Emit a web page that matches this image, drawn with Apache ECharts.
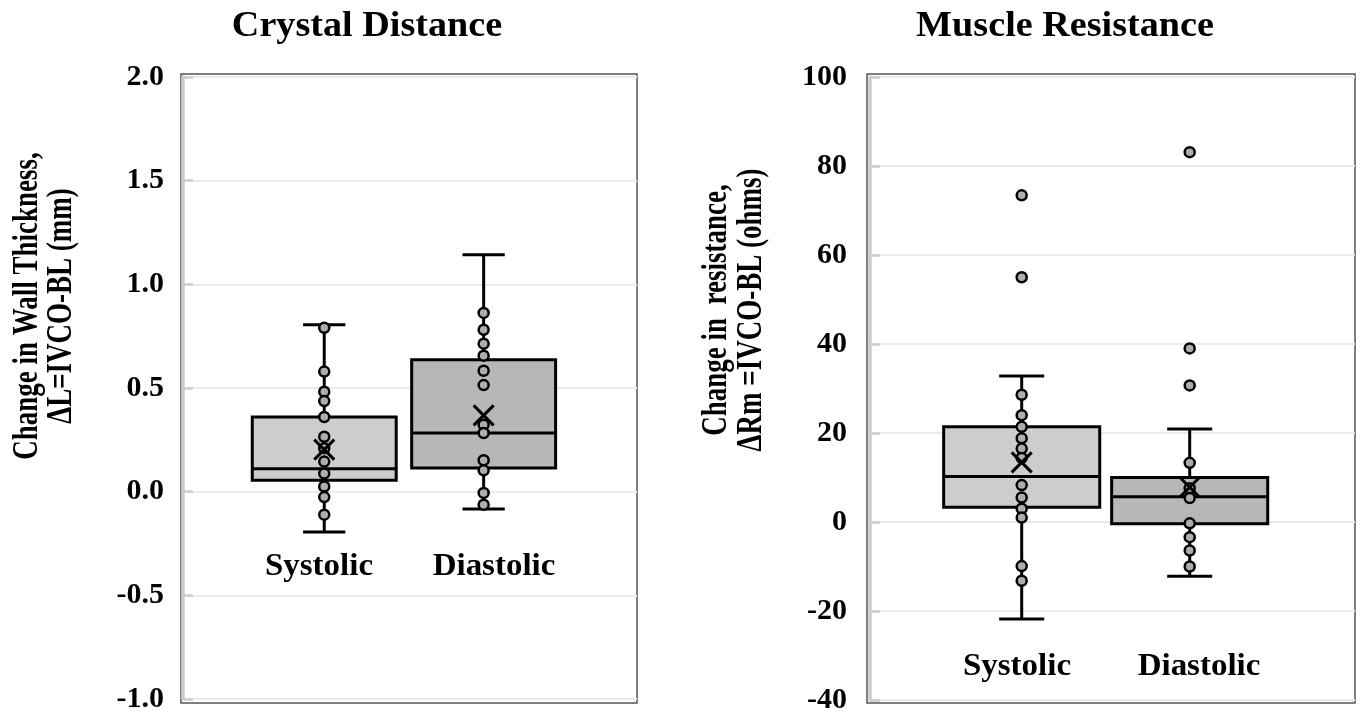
<!DOCTYPE html>
<html>
<head>
<meta charset="utf-8">
<script src="https://cdn.jsdelivr.net/npm/echarts@6/dist/echarts.min.js"></script>
<style>html,body{margin:0;padding:0;background:#fff;}#main{width:1363px;height:717px;}</style>
</head>
<body>
<div id="main"></div>
<script>
// ---------- data ----------
const categories = ['Systolic', 'Diastolic'];

// Crystal Distance (mm)
const crystalLow    = [-0.194, -0.084];
const crystalQ1     = [0.055, 0.114];
const crystalMedian = [0.110, 0.283];
const crystalQ3     = [0.360, 0.636];
const crystalHigh   = [0.805, 1.143];
const crystalMean   = [0.203, 0.368];
const crystalSystolicPoints  = [0.790, 0.579, 0.482, 0.437, 0.360, 0.265, 0.210, 0.145, 0.088, 0.025, -0.026, -0.111];
const crystalDiastolicPoints = [0.862, 0.781, 0.714, 0.656, 0.583, 0.514, 0.323, 0.283, 0.152, 0.103, -0.006, -0.063];
const crystalTicks = ['-1.0', '-0.5', '0.0', '0.5', '1.0', '1.5', '2.0'];

// Muscle Resistance (ohms)
const muscleLow    = [-21.8, -12.2];
const muscleQ1     = [3.3, -0.4];
const muscleMedian = [10.2, 5.7];
const muscleQ3     = [21.4, 10.0];
const muscleHigh   = [32.8, 20.9];
const muscleMean   = [13.4, 7.8];
const muscleSystolicPoints  = [73.4, 55.0, 28.6, 24.0, 21.4, 18.8, 16.5, 14.4, 8.3, 5.5, 3.0, 1.0, -9.9, -13.2];
const muscleDiastolicPoints = [83.1, 39.0, 30.7, 13.3, 7.6, 5.4, -0.3, -3.4, -6.4, -10.0];
const muscleTicks = ['-40', '-20', '0', '20', '40', '60', '80', '100'];

// ---------- helpers ----------
const FONT = '"Liberation Serif", "Times New Roman", serif';
const boxFill = ['#cdcdcd', '#b7b7b7'];
const LW = 3;

function boxRows(low, q1, med, q3, high) {
  return categories.map((c, i) => [i + 1, low[i], q1[i], med[i], q3[i], high[i]]);
}
function pointRows(sys, dia) {
  return sys.map(v => [1, v]).concat(dia.map(v => [2, v]));
}
function meanRows(mean) {
  return categories.map((c, i) => [i + 1, mean[i]]);
}
function makeBoxRenderer(boxW, capW) {
  return function (params, api) {
    const x = api.value(0);
    const pLow = api.coord([x, api.value(1)]);
    const pQ1 = api.coord([x, api.value(2)]);
    const pMed = api.coord([x, api.value(3)]);
    const pQ3 = api.coord([x, api.value(4)]);
    const pHigh = api.coord([x, api.value(5)]);
    const half = api.size([boxW, 0])[0] / 2;
    const capHalf = api.size([capW, 0])[0] / 2;
    const cx = pLow[0];
    const st = { stroke: '#000', lineWidth: LW };
    return {
      type: 'group',
      children: [
        { type: 'line', shape: { x1: cx, y1: pQ3[1], x2: cx, y2: pHigh[1] }, style: st },
        { type: 'line', shape: { x1: cx, y1: pQ1[1], x2: cx, y2: pLow[1] }, style: st },
        { type: 'line', shape: { x1: cx - capHalf, y1: pHigh[1], x2: cx + capHalf, y2: pHigh[1] }, style: st },
        { type: 'line', shape: { x1: cx - capHalf, y1: pLow[1], x2: cx + capHalf, y2: pLow[1] }, style: st },
        { type: 'rect', shape: { x: cx - half, y: pQ3[1], width: 2 * half, height: pQ1[1] - pQ3[1] },
          style: { fill: boxFill[params.dataIndex], stroke: '#000', lineWidth: LW } },
        { type: 'line', shape: { x1: cx - half, y1: pMed[1], x2: cx + half, y2: pMed[1] }, style: st }
      ]
    };
  };
}
function renderMean(params, api) {
  const p = api.coord([api.value(0), api.value(1)]);
  const r = 10;
  const st = { stroke: '#000', lineWidth: 3 };
  return {
    type: 'group',
    children: [
      { type: 'line', shape: { x1: p[0] - r, y1: p[1] - r, x2: p[0] + r, y2: p[1] + r }, style: st },
      { type: 'line', shape: { x1: p[0] - r, y1: p[1] + r, x2: p[0] + r, y2: p[1] - r }, style: st }
    ]
  };
}
function yAxisCfg(gridIndex, min, max, interval, ticks, margin) {
  return {
    type: 'value', gridIndex, min, max, interval,
    axisLine: { show: true, lineStyle: { color: '#cccccc', width: 3.5 } },
    axisTick: { show: true, inside: true, length: 10, lineStyle: { color: '#cccccc', width: 2.5 } },
    axisLabel: {
      margin, color: '#000', fontFamily: FONT, fontWeight: 'bold', fontSize: 30,
      formatter: v => ticks[Math.round((v - min) / interval)]
    },
    splitLine: { show: true, lineStyle: { color: '#ebebeb', width: 2 } }
  };
}
function xAxisCfg(gridIndex, min, max) {
  return { type: 'value', gridIndex, min, max, show: false, splitLine: { show: false } };
}
function textEl(text, x, y, size, opts) {
  opts = opts || {};
  return {
    type: 'text', x, y, rotation: opts.rotation || 0, scaleX: opts.scaleX || 1, scaleY: opts.scaleY || 1, z: 10,
    style: {
      text, fill: '#000', fontFamily: FONT, fontWeight: 'bold', fontSize: size,
      align: 'center', verticalAlign: 'middle', lineHeight: opts.lineHeight || size * 1.2
    }
  };
}

const chart = echarts.init(document.getElementById('main'), null, { renderer: 'canvas' });
chart.setOption({
  animation: false,
  backgroundColor: '#fff',
  grid: [
    { left: 183, top: 77, width: 454, height: 622 },
    { left: 870, top: 77, width: 485, height: 623 }
  ],
  xAxis: [xAxisCfg(0, 0.114, 2.962), xAxisCfg(1, 0.097, 2.984)],
  yAxis: [
    yAxisCfg(0, -1, 2, 0.5, crystalTicks, 19),
    yAxisCfg(1, -40, 100, 20, muscleTicks, 23)
  ],
  graphic: [
    { type: 'rect', shape: { x: 181, y: 74, width: 456, height: 629 }, style: { fill: 'none', stroke: '#555', lineWidth: 1.5 }, z: 0 },
    { type: 'rect', shape: { x: 867, y: 74, width: 488, height: 629 }, style: { fill: 'none', stroke: '#555', lineWidth: 1.5 }, z: 0 },
    textEl('Crystal Distance', 367, 27, 36, { scaleX: 1.06 }),
    textEl('Muscle Resistance', 1065, 27, 36, { scaleX: 1.06 }),
    textEl('Change in Wall Thickness,\n\u0394L=IVCO-BL (mm)', 45, 306, 27, { rotation: Math.PI / 2, scaleY: 1.3, lineHeight: 26 }),
    textEl('Change in  resistance,\n\u0394Rm =IVCO-BL (ohms)', 734, 310, 27, { rotation: Math.PI / 2, scaleY: 1.3, lineHeight: 27 }),
    textEl(categories[0], 319, 567, 32, { scaleX: 1.03 }),
    textEl(categories[1], 494, 567, 32, { scaleX: 1.03 }),
    textEl(categories[0], 1017, 667, 32, { scaleX: 1.03 }),
    textEl(categories[1], 1199, 667, 32, { scaleX: 1.03 })
  ],
  series: [
    { type: 'custom', xAxisIndex: 0, yAxisIndex: 0, z: 2, renderItem: makeBoxRenderer(0.903, 0.265),
      data: boxRows(crystalLow, crystalQ1, crystalMedian, crystalQ3, crystalHigh) },
    { type: 'scatter', xAxisIndex: 0, yAxisIndex: 0, z: 3, symbol: 'circle', symbolSize: 10,
      itemStyle: { color: '#adadad', borderColor: '#000', borderWidth: 2.5, opacity: 1 },
      data: pointRows(crystalSystolicPoints, crystalDiastolicPoints) },
    { type: 'custom', xAxisIndex: 0, yAxisIndex: 0, z: 4, renderItem: renderMean, data: meanRows(crystalMean) },

    { type: 'custom', xAxisIndex: 1, yAxisIndex: 1, z: 2, renderItem: makeBoxRenderer(0.929, 0.268),
      data: boxRows(muscleLow, muscleQ1, muscleMedian, muscleQ3, muscleHigh) },
    { type: 'scatter', xAxisIndex: 1, yAxisIndex: 1, z: 3, symbol: 'circle', symbolSize: 10,
      itemStyle: { color: '#adadad', borderColor: '#000', borderWidth: 2.5, opacity: 1 },
      data: pointRows(muscleSystolicPoints, muscleDiastolicPoints) },
    { type: 'custom', xAxisIndex: 1, yAxisIndex: 1, z: 4, renderItem: renderMean, data: meanRows(muscleMean) }
  ]
});
</script>
</body>
</html>
